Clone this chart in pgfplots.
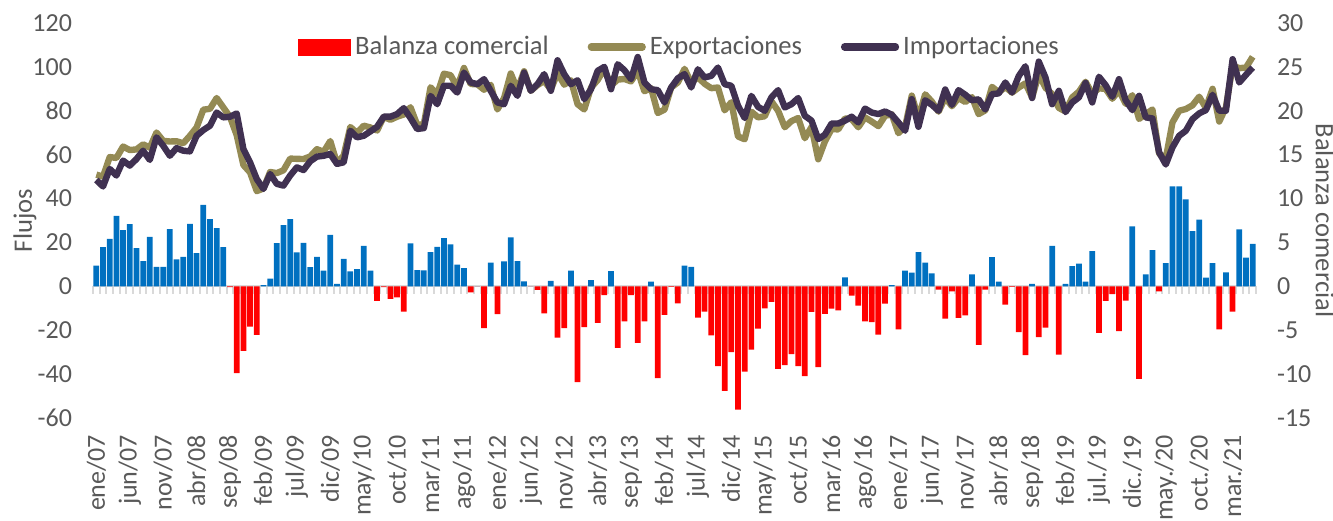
\documentclass[border=0pt]{standalone}
\usepackage{pgfplots}
\pgfplotsset{compat=1.18}
\usepackage{pgfplotstable}
\usepackage{fontspec}
\setmainfont{Carlito}
\definecolor{txt}{HTML}{595959}
\definecolor{expcol}{HTML}{948A54}
\definecolor{impcol}{HTML}{403151}
\definecolor{posb}{HTML}{0070C0}
\definecolor{negb}{HTML}{FF0000}
\definecolor{axgray}{HTML}{D9D9D9}
\pgfplotstableread{
i M X B
0 48.5 50.9 2.35
1 45.5 50.0 4.47
2 53.5 58.9 5.42
3 50.5 58.5 8.03
4 57.3 63.7 6.4
5 55.0 62.1 7.08
6 58.0 62.4 4.36
7 61.8 64.7 2.88
8 57.6 63.2 5.64
9 67.9 70.1 2.23
10 64.1 66.3 2.23
11 59.5 66.0 6.52
12 63.0 66.1 3.07
13 61.8 65.2 3.37
14 61.5 68.6 7.12
15 68.6 72.4 3.79
16 71.2 80.5 9.28
17 73.2 80.9 7.65
18 79.2 85.8 6.63
19 77.0 81.5 4.47
20 77.3 77.2 -0.1
21 78.8 68.9 -9.89
22 62.6 55.3 -7.35
23 56.5 51.9 -4.58
24 48.9 43.4 -5.53
25 44.4 44.6 0.15
26 51.2 52.1 0.87
27 46.7 51.6 4.92
28 45.9 52.9 6.97
29 50.5 58.2 7.65
30 54.2 58.1 3.86
31 53.0 58.0 4.96
32 57.0 59.2 2.2
33 59.1 62.5 3.37
34 59.5 61.3 1.78
35 60.3 66.2 5.87
36 55.8 56.1 0.27
37 56.5 59.6 3.14
38 70.9 72.6 1.7
39 67.9 69.9 1.97
40 68.6 73.2 4.62
41 70.6 72.4 1.78
42 72.7 71.0 -1.67
43 77.3 77.2 -0.1
44 77.3 75.9 -1.44
45 78.5 77.3 -1.25
46 81.2 78.3 -2.88
47 76.7 81.6 4.89
48 71.7 73.6 1.86
49 72.1 73.9 1.82
50 86.8 90.7 3.9
51 83.0 87.5 4.5
52 91.4 96.9 5.49
53 91.4 96.2 4.77
54 88.3 90.8 2.46
55 97.4 99.5 2.08
56 92.9 92.2 -0.7
57 92.1 92.1 0
58 94.4 89.6 -4.77
59 89.1 91.8 2.69
60 83.8 80.6 -3.18
61 83.0 85.8 2.84
62 91.4 97.0 5.57
63 86.8 89.7 2.88
64 97.4 98.0 0.57
65 89.1 89.1 0
66 92.1 91.7 -0.4
67 96.7 93.6 -3.07
68 89.1 89.7 0.61
69 103.0 97.2 -5.83
70 96.7 91.9 -4.77
71 92.1 93.9 1.78
72 93.9 83.0 -10.9
73 85.3 80.6 -4.66
74 89.8 90.5 0.72
75 98.2 94.0 -4.17
76 100.0 99.0 -1.0
77 89.8 91.5 1.74
78 101.2 94.2 -7.0
79 98.5 94.5 -3.98
80 94.4 93.4 -1.0
81 104.5 98.1 -6.44
82 92.9 88.9 -3.98
83 89.8 90.3 0.53
84 89.4 79.0 -10.45
85 83.8 80.5 -3.26
86 90.6 90.6 -0.05
87 94.8 92.9 -1.93
88 96.7 99.1 2.35
89 90.6 92.8 2.23
90 98.9 95.3 -3.56
91 95.2 92.3 -2.88
92 95.9 90.3 -5.6
93 99.7 90.6 -9.09
94 92.1 80.2 -11.9
95 91.4 83.9 -7.5
96 82.3 68.3 -14.05
97 76.7 67.0 -9.73
98 86.8 79.6 -7.2
99 81.8 77.0 -4.81
100 80.0 77.5 -2.5
101 86.1 84.3 -1.78
102 89.4 80.0 -9.39
103 81.5 72.5 -8.98
104 83.0 75.3 -7.73
105 85.8 76.7 -9.09
106 77.7 67.5 -10.23
107 75.5 72.6 -2.92
108 67.1 57.9 -9.2
109 69.1 66.0 -3.14
110 74.2 71.7 -2.54
111 74.2 71.5 -2.73
112 75.5 76.5 1.02
113 77.3 76.2 -1.06
114 74.7 72.5 -2.2
115 81.0 77.0 -3.98
116 79.2 75.1 -4.09
117 78.5 73.0 -5.49
118 79.7 77.7 -1.97
119 78.2 78.4 0.15
120 74.7 69.8 -4.89
121 70.9 72.7 1.78
122 85.3 86.9 1.55
123 72.7 76.6 3.9
124 84.8 87.5 2.69
125 82.7 84.2 1.48
126 80.0 79.6 -0.38
127 89.7 86.0 -3.67
128 82.7 82.1 -0.57
129 89.4 85.8 -3.6
130 87.3 84.0 -3.3
131 84.8 86.2 1.36
132 85.2 78.5 -6.67
133 80.6 80.2 -0.38
134 87.6 90.9 3.33
135 87.9 88.4 0.53
136 92.9 90.8 -2.08
137 88.3 88.3 -0.05
138 95.8 90.6 -5.23
139 100.3 92.5 -7.84
140 85.8 86.1 0.27
141 102.4 96.6 -5.8
142 95.2 90.5 -4.7
143 83.0 87.6 4.62
144 89.1 81.3 -7.77
145 79.4 79.7 0.27
146 83.8 86.1 2.31
147 86.1 88.7 2.58
148 92.7 93.2 0.53
149 83.8 87.8 4.02
150 95.5 90.2 -5.3
151 91.7 90.0 -1.67
152 86.4 85.5 -0.9
153 94.4 89.3 -5.11
154 84.8 83.2 -1.63
155 80.3 87.1 6.82
156 86.8 76.3 -10.53
157 77.0 78.4 1.36
158 76.5 80.6 4.13
159 61.1 60.5 -0.57
160 55.5 58.2 2.65
161 63.3 74.7 11.4
162 68.6 80.0 11.4
163 70.9 80.8 9.9
164 76.2 82.5 6.3
165 78.8 86.4 7.61
166 80.3 81.3 0.98
167 87.3 90.0 2.65
168 80.0 75.1 -4.89
169 80.0 81.6 1.59
170 103.5 100.6 -2.88
171 92.9 99.4 6.48
172 96.4 99.7 3.26
173 99.7 104.6 4.85
}\data
\begin{document}
\begin{tikzpicture}[font=\fontsize{13bp}{15.6bp}\selectfont]
\pgfplotsset{
  base/.style={
    at={(0,0)}, anchor=south west,
    scale only axis, width=581.5bp, height=197.5bp,
    xmin=-0.5, xmax=173.5,
    /pgf/number format/assume math mode=true,
    tick label style={text=txt, font=\fontsize{13bp}{15.6bp}\selectfont},
  }
}
% bars on the secondary axis
\begin{axis}[base,
  ymin=-15, ymax=30,
  axis y line*=right, axis x line*=middle,
  y axis line style={draw=none},
  x axis line style={draw=axgray, line width=1.1bp},
  xtick={-0.5,0.5,...,173.5}, xticklabels={},
  xtick align=outside,
  xtick style={draw=axgray, line width=1bp},
  major tick length=3.8bp,
  ytick={-15,-10,...,30},
  ytick style={draw=none},
  yticklabel style={anchor=west},
  yticklabel shift=7bp,
  ylabel={Balanza comercial},
  every axis y label/.style={at={(axis description cs:1.0593,0.5)}, rotate=-90, anchor=center,
    text=txt, font=\fontsize{13.3bp}{16bp}\selectfont},
]
\addplot[ybar, bar width=0.86, bar shift=0pt, fill=posb, draw=none, restrict y to domain=0:50] table[x=i,y=B]{\data};
\addplot[ybar, bar width=0.86, bar shift=0pt, fill=negb, draw=none, restrict y to domain=-50:0] table[x=i,y=B]{\data};
\end{axis}
% flows on the primary axis
\begin{axis}[base,
  ymin=-60, ymax=120,
  axis y line*=left, axis x line*=bottom,
  axis line style={draw=none},
  major tick length=0pt, tick style={draw=none},
  xtick={0,5,...,170},
  xticklabels={ene/07,jun/07,nov/07,abr/08,sep/08,feb/09,jul/09,dic/09,may/10,oct/10,mar/11,ago/11,ene/12,jun/12,nov/12,abr/13,sep/13,feb/14,jul/14,dic/14,may/15,oct/15,mar/16,ago/16,ene/17,jun/17,nov/17,abr/18,sep/18,feb/19,jul./19,dic./19,may./20,oct./20,mar./21},
  xticklabel style={rotate=90, anchor=east},
  xticklabel shift=5bp,
  ytick={-60,-40,...,120},
  yticklabel shift=7bp,
  ylabel={Flujos},
  every axis y label/.style={at={(axis description cs:-0.0585,0.5)}, rotate=90, anchor=center,
    text=txt, font=\fontsize{13.3bp}{16bp}\selectfont},
  legend columns=-1,
  legend style={at={(0.1763,0.9394)}, anchor=west, draw=none, fill=none, inner sep=0pt,
    text=txt, font=\fontsize{13.3bp}{16bp}\selectfont,
    /tikz/every even column/.append style={column sep=17.5bp}},
]
\addlegendimage{legend image code/.code={\fill[negb] (0bp,-4bp) rectangle (26bp,4bp);}}
\addlegendentry{Balanza comercial}
\addplot[draw=expcol, line width=3.2bp, line join=round, mark=none,
  legend image code/.code={\draw[expcol, line width=3.6bp, line cap=round] (1.5bp,0bp) -- (27bp,0bp);}] table[x=i,y=X]{\data};
\addlegendentry{Exportaciones}
\addplot[draw=impcol, line width=3.2bp, line join=round, mark=none,
  legend image code/.code={\draw[impcol, line width=3.6bp, line cap=round] (1.5bp,0bp) -- (27bp,0bp);}] table[x=i,y=M]{\data};
\addlegendentry{Importaciones}
\end{axis}
\pgfresetboundingbox
\path[use as bounding box] (-46.5bp,-51.5bp) rectangle (620bp,209bp);
\end{tikzpicture}
\end{document}
